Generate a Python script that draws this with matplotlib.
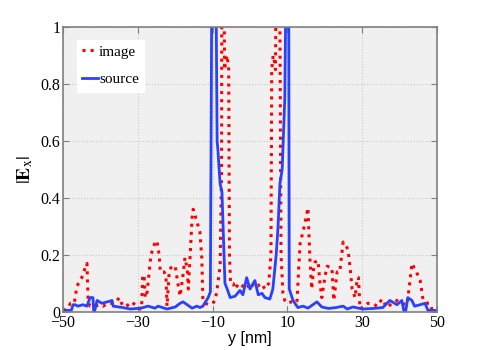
import numpy as np
import matplotlib
matplotlib.use('Agg')
import matplotlib.pyplot as plt

plt.rcParams['mathtext.fontset'] = 'stix'

# image field |Ex| (red dotted)
y_img = [-50, -49, -48, -47, -46.3, -45, -44.2, -43.6, -43.3, -42.8, -41.5, -40, -39.3,
         -38, -36.5, -35.5, -35, -34, -33.1, -31.5, -30.2, -29.4, -29.0, -28.7, -28.3,
         -28.0, -27.5, -26.5, -25.5, -24.9, -24.3, -24.0, -23.0, -22.5, -22.2, -21.6,
         -21.0, -20.0, -19.3, -18.7, -18.0, -17.4, -16.8, -16.5, -16.0, -15.5, -15.2,
         -14.5, -13.4, -12.9, -12.6, -12.0, -11.0, -10.0, -9.3, -8.8, -8.0, -7.6, -7.5,
         -7.1, -6.8, -6.5, -6.1, -5.7, -5.5, -5.2, -4.5, -4.0, -3.0, -2.0, -1.0, 0.0,
         1.0, 2.0, 3.0, 4.0, 5.0, 5.6, 5.8, 6.2, 6.5, 6.8, 7.2, 7.8, 8.3, 8.8, 9.3,
         10.0, 11.0, 12.0, 12.6, 13.0, 13.4, 14.5, 15.5, 16.0, 16.5, 17.0, 17.4, 18.2,
         18.7, 19.2, 20.0, 20.6, 21.9, 22.4, 23.3, 24.0, 24.9, 26.2, 26.8, 27.3, 28.1,
         28.7, 29.0, 29.4, 30.5, 31.5, 32.6, 34.0, 35.3, 36.6, 38.0, 39.3, 40.5, 42.0,
         42.7, 43.3, 44.5, 45.5, 46.3, 47.5, 48.1, 48.6, 50]
E_img = [0.005, 0.01, 0.03, 0.03, 0.09, 0.12, 0.15, 0.17, 0.04, 0.02, 0.02, 0.025, 0.02,
         0.03, 0.03, 0.04, 0.05, 0.02, 0.02, 0.035, 0.015, 0.01, 0.01, 0.13, 0.12,
         0.05, 0.07, 0.2, 0.24, 0.25, 0.2, 0.14, 0.14, 0.13, 0.02, 0.14,
         0.16, 0.16, 0.1, 0.055, 0.12, 0.19, 0.15, 0.08, 0.2, 0.33, 0.36,
         0.33, 0.28, 0.19, 0.04, 0.03, 0.025, 0.03, 0.04, 0.08, 0.16, 0.5, 1.5,
         1.5, 0.85, 0.88, 0.9, 0.85, 0.2, 0.1, 0.1, 0.08, 0.1, 0.09, 0.1, 0.08,
         0.1, 0.09, 0.1, 0.08, 0.1, 0.2, 0.85, 0.9, 0.88, 0.85, 1.5, 1.5, 0.2, 0.065, 0.04,
         0.03, 0.035, 0.03, 0.04, 0.15, 0.24, 0.3, 0.365, 0.19, 0.08, 0.15, 0.175, 0.18,
         0.1, 0.05, 0.12, 0.16, 0.155, 0.04, 0.14, 0.14, 0.245, 0.22, 0.15, 0.08, 0.05,
         0.12, 0.12, 0.01, 0.02, 0.03, 0.03, 0.02, 0.045, 0.015, 0.03, 0.04, 0.03, 0.025,
         0.1, 0.17, 0.14, 0.11, 0.04, 0.03, 0.03, 0.01, 0.005]

# source field |Ex| (blue solid)
y_src = [-50, -47.8, -47.3, -46.8, -46.0, -44.7, -43.6, -42.8, -42.0, -41.8, -41.6,
         -40.9, -39.6, -38.2, -36.9, -36.6, -34, -32, -30, -28.6, -27.3, -25.4, -24.6,
         -22.2, -20.0, -18.7, -17.9, -16.8, -15.5, -14.2, -13.4, -12.6, -11.2, -10.6,
         -10.1, -9.3, -8.8, -8.6, -8.0, -7.5, -6.7, -6.1, -5.3, -4.0, -2.7, -1.9, -0.9,
         0.0, 1.3, 2.2, 3.2, 4.0, 5.3, 6.1, 7.0, 7.5, 8.0, 8.6, 9.3, 9.9, 10.3, 10.5,
         11.5, 12.8, 14.2, 15.5, 17.9, 19.2, 21, 23, 24.9, 26.0, 27.5, 30.2, 33, 35.5,
         37.4, 39.3, 40.6, 41.2, 41.6, 42.2, 43.3, 44.0, 45.5, 46.8, 47.6, 50]
E_src = [0.005, 0.005, 0.025, 0.025, 0.02, 0.025, 0.02, 0.05, 0.05, 0.0, 0.0,
         0.04, 0.03, 0.035, 0.04, 0.02, 0.015, 0.01, 0.012, 0.015, 0.02, 0.013, 0.02,
         0.01, 0.017, 0.03, 0.035, 0.025, 0.013, 0.02, 0.015, 0.02, 0.05, 0.07,
         1.5, 1.5, 0.6, 0.57, 0.45, 0.42, 0.1, 0.08, 0.05, 0.055, 0.075, 0.06, 0.12,
         0.08, 0.11, 0.06, 0.065, 0.05, 0.045, 0.08, 0.2, 0.3, 0.45, 0.5, 0.75, 1.5, 1.5, 0.08,
         0.04, 0.015, 0.02, 0.013, 0.035, 0.017, 0.012, 0.015, 0.02, 0.01, 0.017, 0.01, 0.012, 0.015,
         0.04, 0.025, 0.04, 0.0, 0.0, 0.05, 0.04, 0.02, 0.025, 0.03, 0.005, 0.005]

xticks = [-50, -30, -10, 10, 30, 50]
xtick_labels = ['\u221250', '\u221230', '\u221210', '10', '30', '50']
yticks = [0, 0.2, 0.4, 0.6, 0.8, 1]
ytick_labels = ['0', '0.2', '0.4', '0.6', '0.8', '1']

serif = ['Liberation Serif', 'DejaVu Serif']

fig = plt.figure(figsize=(4.85, 3.5), dpi=100)
ax = fig.add_axes([0.130, 0.109, 0.771, 0.814])
ax.set_facecolor('#f0f0f0')

ax.plot(y_img, E_img, color='#ff0000', linestyle=':', linewidth=2.2, label='image')
ax.plot(y_src, E_src, color='#2a40ff', linestyle='-', linewidth=2.0, label='source')

ax.set_xlim(-50, 50)
ax.set_ylim(0, 1)
ax.set_xticks(xticks)
ax.set_xticklabels(xtick_labels, family=serif, fontsize=11.5)
ax.set_yticks(yticks)
ax.set_yticklabels(ytick_labels, family=serif, fontsize=11.5)
ax.tick_params(direction='in', length=4, color='#808080', pad=2, top=True, right=True)
ax.grid(True, linestyle=':', color='#c8c8c8', linewidth=0.8)

for s in ax.spines.values():
    s.set_color('#808080')
    s.set_linewidth(1.2)

ax.set_xlabel('y [nm]', family=['Liberation Sans', 'DejaVu Sans'], fontsize=11.5, labelpad=0)
ax.set_ylabel(r'$|\mathbf{E}_\mathrm{x}|$', fontsize=14, labelpad=4)

leg = ax.legend(loc='upper left', bbox_to_anchor=(0.037, 0.955), prop={'family': serif, 'size': 11},
                frameon=True, fancybox=False, handlelength=1.0, handletextpad=0.1,
                labelspacing=0.9, borderpad=0.35, borderaxespad=0)
leg.get_frame().set_edgecolor('white')
leg.get_frame().set_facecolor('white')
leg.get_frame().set_alpha(1)

fig.savefig('out.png', dpi=100)
